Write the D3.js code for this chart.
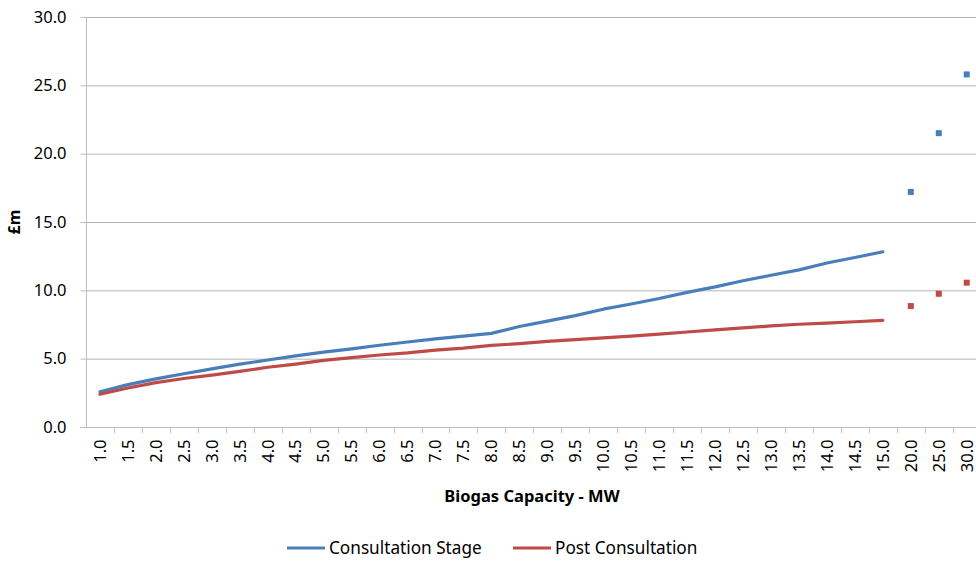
<!DOCTYPE html>
<html>
<head>
<meta charset="utf-8">
<script src="https://cdn.jsdelivr.net/npm/d3@7"></script>
<style>
  html, body { margin: 0; padding: 0; background: #fff; }
  svg { display: block; font-family: "Noto Sans", sans-serif; }
</style>
</head>
<body>
<svg id="chart" width="976" height="564"></svg>
<script>
const categories = ["1.0","1.5","2.0","2.5","3.0","3.5","4.0","4.5","5.0","5.5","6.0","6.5","7.0","7.5","8.0","8.5","9.0","9.5","10.0","10.5","11.0","11.5","12.0","12.5","13.0","13.5","14.0","14.5","15.0","20.0","25.0","30.0"];
const consultationStage = [2.58,3.1,3.52,3.9,4.25,4.6,4.9,5.2,5.48,5.72,5.98,6.22,6.45,6.65,6.85,7.35,7.75,8.15,8.62,9.0,9.4,9.85,10.25,10.7,11.1,11.5,12.0,12.4,12.82,17.2,21.5,25.8];
const postConsultation = [2.4,2.85,3.25,3.55,3.8,4.07,4.37,4.6,4.87,5.07,5.27,5.42,5.62,5.77,5.97,6.1,6.27,6.4,6.52,6.65,6.8,6.95,7.1,7.25,7.4,7.52,7.6,7.7,7.8,8.85,9.75,10.56];
const lineCount = 29; // first 29 categories drawn as a line, the rest as markers only
const yTicks = [0,5,10,15,20,25,30];
const seriesNames = ["Consultation Stage","Post Consultation"];
const xTitle = "Biogas Capacity - MW";
const yTitle = "£m";

(function () {
const colors = ["#4A7EBB","#BE4B48"];
const svg = d3.select("#chart");
const pLeft = 86, pRight = 980.7, pTop = 17, pBottom = 427;

const x = d3.scaleBand().domain(categories).range([pLeft, pRight]).padding(0);
const y = d3.scaleLinear().domain([0, 30]).range([pBottom, pTop]);

// gridlines
svg.append("g").selectAll("line").data(yTicks.filter(d => d > 0)).join("line")
  .attr("x1", pLeft).attr("x2", 976).attr("y1", d => y(d) + 0.5).attr("y2", d => y(d) + 0.5)
  .attr("stroke", "#b5b5b5").attr("stroke-width", 1);

// y axis
const yAxis = d3.axisLeft(y).tickValues(yTicks).tickFormat(d3.format(".1f")).tickSize(6).tickPadding(14);
const gy = svg.append("g").attr("transform", `translate(${pLeft + 0.5},0)`).call(yAxis);
gy.select(".domain").attr("stroke", "#bfbfbf").attr("d", `M0,${pTop}V${pBottom}`);
gy.selectAll(".tick line").attr("stroke", "#bfbfbf");
gy.selectAll(".tick text").attr("fill", "#000").style("font-size", "16.5px").style("font-family", "Noto Sans");

// x axis
const xAxis = d3.axisBottom(x).tickSize(0).tickPadding(0);
const gx = svg.append("g").attr("transform", `translate(0,${pBottom + 0.5})`).call(xAxis);
gx.select(".domain").attr("stroke", "#bfbfbf").attr("d", `M${pLeft - 6},0H976`);
gx.selectAll(".tick text")
  .attr("fill", "#000").style("font-size", "16.5px").style("font-family", "Noto Sans")
  .attr("text-anchor", "end")
  .attr("transform", "rotate(-90)")
  .attr("x", -12).attr("y", 0).attr("dy", "0.35em");
// boundary ticks between categories
svg.append("g").selectAll("line").data(categories.slice(1)).join("line")
  .attr("x1", d => Math.round(x(d)) + 0.5).attr("x2", d => Math.round(x(d)) + 0.5)
  .attr("y1", pBottom).attr("y2", pBottom + 6)
  .attr("stroke", "#bfbfbf");

// lines and markers
const series = [consultationStage, postConsultation];
const line = d3.line()
  .x((d, i) => x(categories[i]) + x.bandwidth() / 2)
  .y(d => y(d));
series.forEach((vals, si) => {
  svg.append("path")
    .datum(vals.slice(0, lineCount))
    .attr("fill", "none")
    .attr("stroke", colors[si])
    .attr("stroke-width", 3.2)
    .attr("stroke-linejoin", "round")
    .attr("stroke-linecap", "round")
    .attr("d", line);
  svg.append("g").selectAll("rect")
    .data(vals.map((v, i) => ({v, i})).slice(lineCount))
    .join("rect")
    .attr("x", d => x(categories[d.i]) + x.bandwidth() / 2 - 3)
    .attr("y", d => y(d.v) - 3)
    .attr("width", 6).attr("height", 6)
    .attr("fill", colors[si]);
});

// axis titles
svg.append("text").attr("x", 532).attr("y", 502)
  .attr("text-anchor", "middle").style("font-size", "16.5px").style("font-weight", "bold")
  .text(xTitle);
svg.append("text").attr("transform", `translate(20,${(pTop + pBottom) / 2}) rotate(-90)`)
  .attr("text-anchor", "middle").style("font-size", "16px").style("font-weight", "bold")
  .text(yTitle);

// legend
const legendX = [287, 513];
seriesNames.forEach((name, i) => {
  svg.append("line").attr("x1", legendX[i]).attr("x2", legendX[i] + 38)
    .attr("y1", 548).attr("y2", 548)
    .attr("stroke", colors[i]).attr("stroke-width", 3.2);
  svg.append("text").attr("x", legendX[i] + 42).attr("y", 548).attr("dy", "0.35em")
    .style("font-size", "17.2px").text(name);
});
})();
</script>
</body>
</html>
